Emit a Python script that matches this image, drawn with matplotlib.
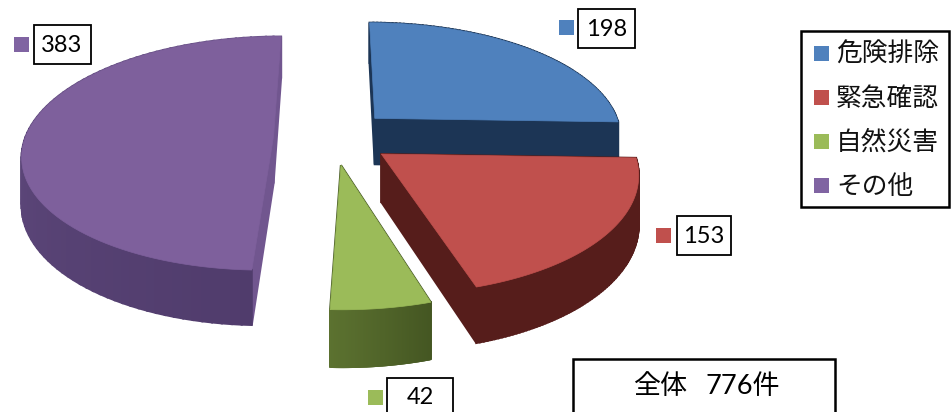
import numpy as np
import matplotlib
matplotlib.use("Agg")
import matplotlib.pyplot as plt
from matplotlib.patches import Rectangle
from matplotlib.colors import to_rgb

plt.rcParams["font.family"] = ["Lato", "Noto Sans CJK JP", "DejaVu Sans"]

categories = ["危険排除", "緊急確認", "自然災害", "その他"]
values = [198, 153, 42, 383]
total_label = "776件"

top_colors = ["#4F81BD", "#C0504D", "#9BBB59", "#7E609C"]
marker_colors = ["#4F81BD", "#C0504D", "#9BBB59", "#8064A2"]
side_colors = ["#1C3555", "#561D1B", "#445622", "#503C6C"]
side_light = ["#1C3555", "#561D1B", "#5C7230", "#6A5289"]
cut_colors = ["#1C3555", "#561D1B", "#445622", "#71568F"]

# pie geometry, in pixels
cx, cy = 333, 137
rx, ry = 248, 114.5
persp = 0.145
explode = 0.24
depth = 47

label_pos = [(606.5, 28), (704, 235), (420, 397), (62, 44)]
marker_pos = [(566.5, 27.5), (663, 235), (375, 397), (21, 44)]
label_w = [57, 54, 66, 57]
label_h = 39


def project(x, v):
    s = 1 / (1 + persp * v)
    return cx + rx * x * s, cy - ry * v * s, s


fig = plt.figure(figsize=(9.52, 4.12), dpi=100)
ax = fig.add_axes([0, 0, 1, 1])
ax.set_xlim(0, 952)
ax.set_ylim(412, 0)
ax.axis("off")

angles = np.concatenate([[0], np.cumsum(values)]) / np.sum(values) * 2 * np.pi
draw_order = [3, 0, 2, 1]

for i in draw_order:
    a0, a1 = angles[i], angles[i + 1]
    mid = (a0 + a1) / 2
    ex, ev = explode * np.sin(mid), explode * np.cos(mid)

    t = np.linspace(a0, a1, 90)
    xs = np.concatenate([[ex], ex + np.sin(t), [ex]])
    vs = np.concatenate([[ev], ev + np.cos(t), [ev]])
    px, py, s = project(xs, vs)
    bx, by = px, py + depth * s

    # side faces, back to front, then the top on them
    order = np.argsort(-(vs[:-1] + vs[1:]))
    c0 = np.array(to_rgb(side_colors[i]))
    c1 = np.array(to_rgb(side_light[i]))
    for k in order:
        col = c0 + (c1 - c0) * min(k / (len(t) - 1), 1)
        if k == 0 or k == len(t):
            col = cut_colors[i]
        ax.fill(
            [px[k], px[k + 1], bx[k + 1], bx[k]],
            [py[k], py[k + 1], by[k + 1], by[k]],
            color=col,
            lw=1.5,
        )
    ax.fill(px, py, color=top_colors[i], lw=0.5, zorder=3)

    lx, ly = label_pos[i]
    ax.add_patch(
        Rectangle(
            (lx - label_w[i] / 2, ly - label_h / 2),
            label_w[i],
            label_h,
            fc="white",
            ec="black",
            lw=1.3,
            zorder=5,
        )
    )
    ax.text(lx, ly + 1, str(values[i]), ha="center", va="center", fontsize=17, zorder=6)
    mx, my = marker_pos[i]
    ax.add_patch(Rectangle((mx - 7.5, my - 7.5), 15, 15, fc=marker_colors[i], ec="none", zorder=5))

# legend
ax.add_patch(Rectangle((801, 31), 148, 176, fc="white", ec="black", lw=1.8, zorder=5))
for i, name in enumerate(categories):
    y = 53 + i * 44
    ax.add_patch(Rectangle((814, y - 7.5), 15, 15, fc=marker_colors[i], ec="none", zorder=6))
    ax.text(836, y + 1, name, ha="left", va="center", fontsize=18.5, zorder=6, color="#111111")

# total box, runs off the bottom edge
ax.add_patch(Rectangle((573, 359), 262, 70, fc="white", ec="black", lw=1.8, zorder=5))
ax.text(660, 387, "全体", ha="center", va="center", fontsize=19.5, zorder=6)
ax.text(743, 387, total_label, ha="center", va="center", fontsize=19.5, zorder=6)

fig.savefig("out.png", dpi=100)
